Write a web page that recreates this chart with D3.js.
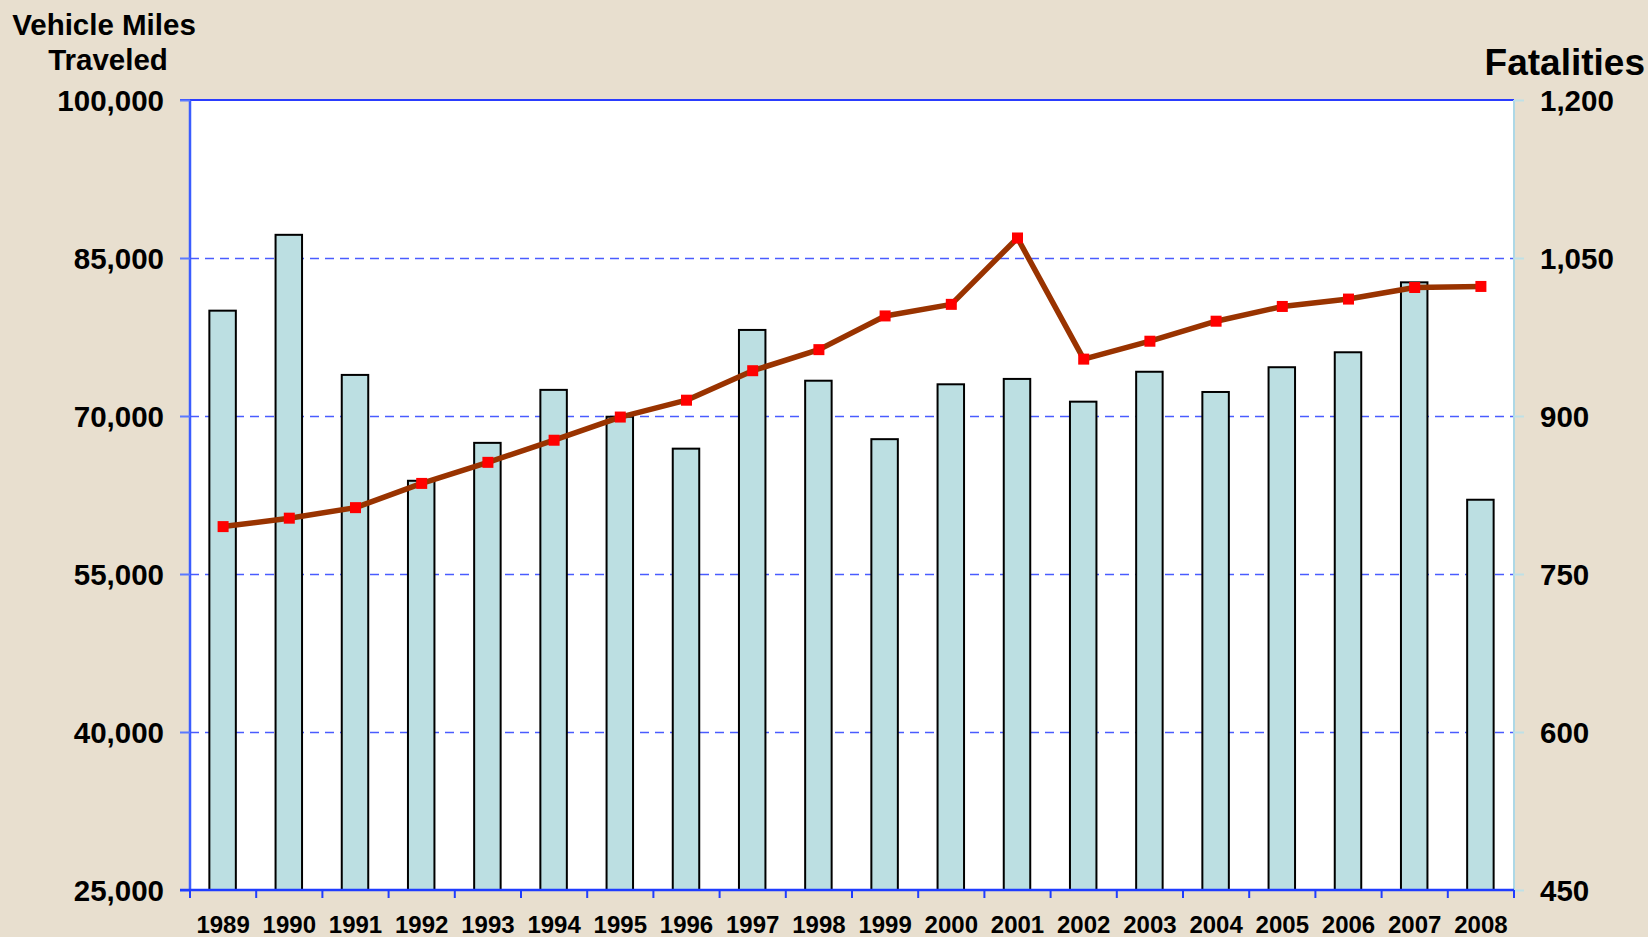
<!DOCTYPE html>
<html>
<head>
<meta charset="utf-8">
<script src="https://cdn.jsdelivr.net/npm/d3@7"></script>
<style>
  body { margin: 0; background: #e8dfcf; }
  text { font-family: "Liberation Sans", Arial, sans-serif; font-weight: bold; fill: #000; }
</style>
</head>
<body>
<div id="chart"></div>
<script>
var w = 1648;
var h = 937;

// data
var years = ["1989", "1990", "1991", "1992", "1993", "1994", "1995", "1996", "1997", "1998",
             "1999", "2000", "2001", "2002", "2003", "2004", "2005", "2006", "2007", "2008"];
var vmt = [80000, 87200, 73900, 63850, 67450, 72480, 69930, 66900, 78170, 73350,
           67800, 73010, 73520, 71360, 74200, 72280, 74630, 76050, 82690, 62050];
var fatalities = [795, 803, 813, 836, 856, 877, 899, 915, 943, 963,
                  995, 1006, 1069, 954, 971, 990, 1004, 1011, 1022, 1023];
var leftTicks = [25000, 40000, 55000, 70000, 85000, 100000];
var rightTicks = [450, 600, 750, 900, 1050, 1200];

var margin = { left: 190, top: 100, right: 134, bottom: 47 };
var pw = w - margin.left - margin.right;
var ph = h - margin.top - margin.bottom;

var svg = d3.select("#chart")
            .append("svg")
            .attr("width", w)
            .attr("height", h);

svg.append("rect")
    .attr("width", w)
    .attr("height", h)
    .attr("fill", "#e8dfcf");

var g = svg.append("g")
    .attr("transform", "translate(" + margin.left + "," + margin.top + ")");

var x = d3.scaleBand().domain(years).range([0, pw]).padding(0);
var y = d3.scaleLinear().domain([25000, 100000]).range([ph, 0]);
var y2 = d3.scaleLinear().domain([450, 1200]).range([ph, 0]);

// plot area
g.append("rect")
    .attr("width", pw)
    .attr("height", ph)
    .attr("fill", "#fff");

// dashed grid lines
g.selectAll(".grid")
    .data(leftTicks.slice(1, -1))
    .enter()
    .append("line")
    .attr("class", "grid")
    .attr("x1", 0)
    .attr("x2", pw)
    .attr("y1", function(d) { return Math.round(y(d)) + 0.5; })
    .attr("y2", function(d) { return Math.round(y(d)) + 0.5; })
    .style("stroke", "#4a5cff")
    .style("stroke-width", 1.3)
    .style("stroke-dasharray", "9,6");

// bars
var bw = x.bandwidth() * 0.4;
g.selectAll(".bar")
    .data(vmt)
    .enter()
    .append("rect")
    .attr("class", "bar")
    .attr("x", function(d, i) { return x(years[i]) + x.bandwidth() / 2 - bw / 2 - 0.5; })
    .attr("y", function(d) { return y(d); })
    .attr("width", bw)
    .attr("height", function(d) { return ph - y(d); })
    .style("fill", "#bcdfe2")
    .style("stroke", "#000")
    .style("stroke-width", 2);

// fatalities line
var line = d3.line()
    .x(function(d, i) { return x(years[i]) + x.bandwidth() / 2; })
    .y(function(d) { return y2(d); });

g.append("path")
    .datum(fatalities)
    .attr("d", line)
    .style("fill", "none")
    .style("stroke", "#993300")
    .style("stroke-width", 5.5)
    .style("stroke-linejoin", "round");

g.selectAll(".mark")
    .data(fatalities)
    .enter()
    .append("rect")
    .attr("class", "mark")
    .attr("x", function(d, i) { return x(years[i]) + x.bandwidth() / 2 - 5.5; })
    .attr("y", function(d) { return y2(d) - 5.5; })
    .attr("width", 11)
    .attr("height", 11)
    .style("fill", "#ff0000");

// top border
g.append("line")
    .attr("x1", -10).attr("x2", pw)
    .attr("y1", 0).attr("y2", 0)
    .style("stroke", "#2a3cff")
    .style("stroke-width", 2);

// left axis
var leftAxis = g.append("g")
    .call(d3.axisLeft(y).tickValues(leftTicks).tickFormat(d3.format(",")).tickSize(10).tickPadding(16));
leftAxis.select(".domain").style("stroke", "#3a5cff").style("stroke-width", 2.5).attr("d", "M0,0V" + ph);
leftAxis.selectAll(".tick line").style("stroke", "#5a78ff").style("stroke-width", 2);
leftAxis.selectAll("text").style("font-size", "29.5px").attr("dy", "0.36em");

// right axis
var rightAxis = g.append("g")
    .attr("transform", "translate(" + pw + ",0)")
    .call(d3.axisRight(y2).tickValues(rightTicks).tickFormat(d3.format(",")).tickSize(10).tickPadding(16));
rightAxis.select(".domain").style("stroke", "#add8e6").style("stroke-width", 2).attr("d", "M0,0V" + ph);
rightAxis.selectAll(".tick line").style("stroke", "#bfe0e6").style("stroke-width", 2);
rightAxis.selectAll("text").style("font-size", "29.5px").attr("dy", "0.36em");

// bottom axis
var bottom = g.append("g").attr("transform", "translate(0," + ph + ")");
bottom.append("line")
    .attr("x1", -10).attr("x2", pw)
    .attr("y1", 0).attr("y2", 0)
    .style("stroke", "#1f3cff")
    .style("stroke-width", 2.5);
var edges = years.map(function(d) { return x(d); }).concat([pw]);
bottom.selectAll(".xt")
    .data(edges)
    .enter()
    .append("line")
    .attr("class", "xt")
    .attr("x1", function(d) { return d; })
    .attr("x2", function(d) { return d; })
    .attr("y1", 0)
    .attr("y2", 8)
    .style("stroke", "#1f3cff")
    .style("stroke-width", 2);
bottom.selectAll(".xl")
    .data(years)
    .enter()
    .append("text")
    .attr("class", "xl")
    .attr("x", function(d) { return x(d) + x.bandwidth() / 2; })
    .attr("y", 43)
    .attr("text-anchor", "middle")
    .style("font-size", "24px")
    .text(function(d) { return d; });

// axis titles
svg.append("text")
    .attr("x", 104).attr("y", 35)
    .attr("text-anchor", "middle")
    .style("font-size", "29.5px")
    .text("Vehicle Miles");
svg.append("text")
    .attr("x", 108).attr("y", 70)
    .attr("text-anchor", "middle")
    .style("font-size", "29.5px")
    .text("Traveled");
svg.append("text")
    .attr("x", 1645).attr("y", 75)
    .attr("text-anchor", "end")
    .style("font-size", "37px")
    .text("Fatalities");
</script>
</body>
</html>
